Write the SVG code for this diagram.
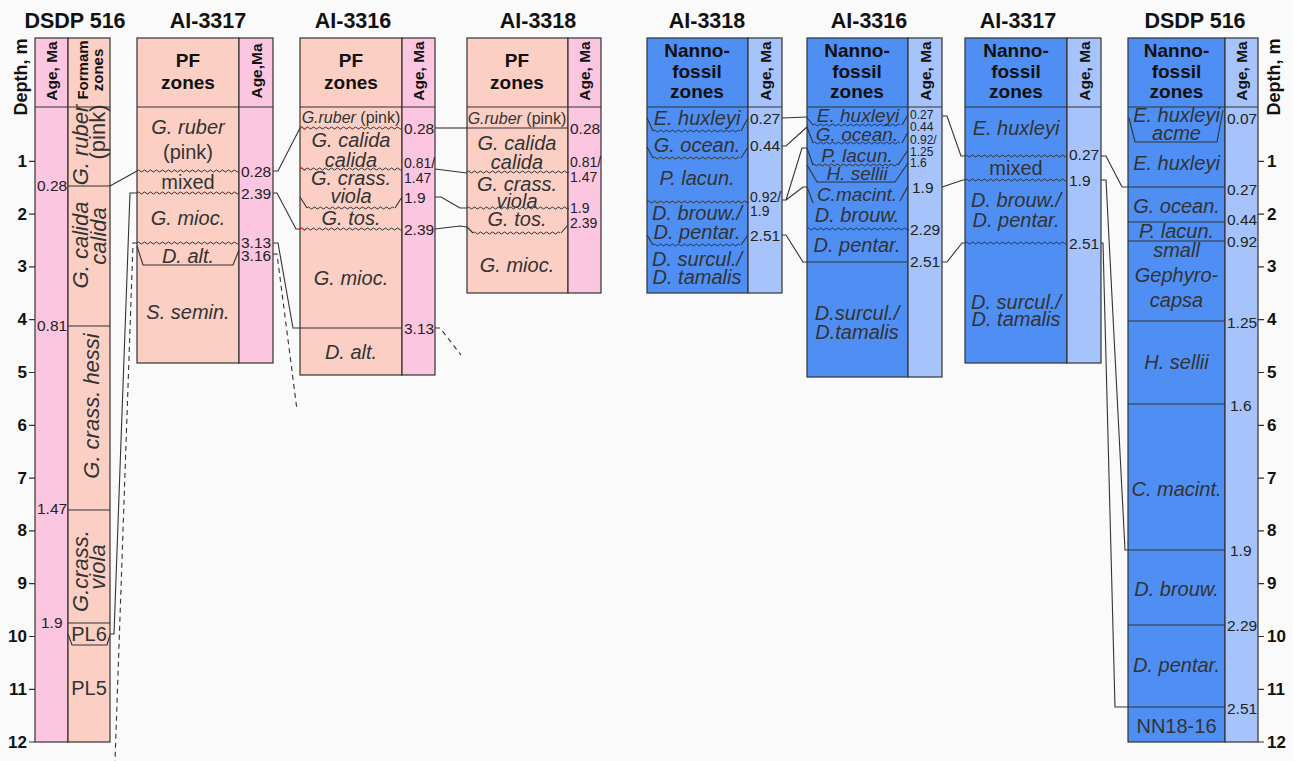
<svg xmlns="http://www.w3.org/2000/svg" width="1293" height="761" viewBox="0 0 1293 761">
<style>
text{font-family:"Liberation Sans",Arial,sans-serif}
.t{font-size:21.5px;font-weight:bold;fill:#111;text-anchor:middle}
.h{font-size:19px;font-weight:bold;fill:#111;text-anchor:middle}
.hs{font-size:15.5px;font-weight:bold;fill:#111;text-anchor:middle;dominant-baseline:central}
.z{font-size:20px;font-style:italic;fill:#333;text-anchor:middle;dominant-baseline:central}
.zf{font-size:22px;font-style:italic;fill:#333;text-anchor:middle;dominant-baseline:central}
.zr{font-size:20px;fill:#333;text-anchor:middle;dominant-baseline:central}
.zs{font-size:16px;fill:#333;text-anchor:middle;dominant-baseline:central}
.zd{font-size:19px;font-style:italic;fill:#333;text-anchor:middle;dominant-baseline:central}
.a{font-size:15.5px;fill:#222;dominant-baseline:central}
.am{font-size:14px;fill:#222;dominant-baseline:central}
.as{font-size:12px;fill:#222;dominant-baseline:central}
.d{font-size:17px;font-weight:bold;fill:#111;dominant-baseline:central}
.dl{font-size:18px;font-weight:bold;fill:#111;text-anchor:middle;dominant-baseline:central}
.pf{fill:#fccfc4;stroke:#333;stroke-width:1.2}
.pk{fill:#fdc6e0;stroke:#333;stroke-width:1.2}
.nb{fill:#4f8ff3;stroke:#333;stroke-width:1.2}
.lb{fill:#a6c4fb;stroke:#333;stroke-width:1.2}
.b{stroke:#333;stroke-width:1.1;fill:none}
.wv{stroke:#333;stroke-width:1;fill:none}
.c{stroke:#333;stroke-width:1.1;fill:none}
.dsh{stroke-dasharray:5,4}
.tk{stroke:#333;stroke-width:1.2;fill:none}
</style>
<defs>
<path id="w" class="wv" d="M0,0q1.5,-2 3,0t3,0t3,0t3,0t3,0t3,0t3,0t3,0t3,0t3,0t3,0t3,0t3,0t3,0t3,0t3,0t3,0t3,0t3,0t3,0t3,0t3,0t3,0t3,0t3,0t3,0t3,0t3,0t3,0t3,0t3,0t3,0t3,0t3,0"/>
<path id="ws" class="wv" d="M0,0q1.5,-2 3,0t3,0t3,0t3,0t3,0t3,0t3,0t3,0t3,0t3,0t3,0t3,0t3,0t3,0t3,0t3,0t3,0t3,0t3,0t3,0t3,0t3,0t3,0t3,0t3,0t3,0t3,0t3,0t3,0"/>
</defs>
<rect x="0" y="0" width="1293" height="761" fill="#fafafa"/>

<!-- Left DSDP 516 -->
<g id="dsdp516-pf">
<text class="t" x="75" y="28">DSDP 516</text>
<rect class="pk" x="35" y="38" width="33" height="704"/>
<rect class="pf" x="68" y="38" width="42" height="704"/>
<path class="b" d="M35,107H110 M68,186H110 M68,326H110 M68,510H110 M68,623H110 M68,634L72,645H107L110,635"/>
<text class="hs" transform="translate(51.5,71) rotate(-90)">Age, Ma</text>
<text class="hs" style="font-size:15px" transform="translate(82,70) rotate(-90)">Formam</text>
<text class="hs" style="font-size:15px" transform="translate(97,70) rotate(-90)">zones</text>
<text class="zf" transform="translate(80,145) rotate(-90)">G. ruber</text>
<text class="zr" style="font-size:22px" transform="translate(97,132) rotate(-90)">(pink)</text>
<text class="zf" transform="translate(80,245) rotate(-90)">G. calida</text>
<text class="zf" transform="translate(98,236) rotate(-90)">calida</text>
<text class="zf" transform="translate(91,406) rotate(-90)">G. crass. hessi</text>
<text class="zf" transform="translate(80,571) rotate(-90)">G.crass.</text>
<text class="zf" transform="translate(97,567) rotate(-90)">viola</text>
<text class="zr" x="89" y="634">PL6</text>
<text class="zr" x="89" y="688">PL5</text>
<text class="a" x="37" y="185">0.28</text>
<text class="a" x="37" y="325">0.81</text>
<text class="a" x="37" y="508">1.47</text>
<text class="a" x="41" y="622">1.9</text>
</g>

<g id="depth-left">
<text class="dl" transform="translate(21,77) rotate(-90)">Depth, m</text>
<path class="tk" d="M29,161.3h6 M29,214.1h6 M29,266.9h6 M29,319.7h6 M29,372.5h6 M29,425.3h6 M29,478.1h6 M29,530.9h6 M29,583.7h6 M29,636.5h6 M29,689.3h6 M29,742h6"/>
<g class="d" text-anchor="end">
<text x="27" y="161.3">1</text><text x="27" y="214.1">2</text><text x="27" y="266.9">3</text><text x="27" y="319.7">4</text><text x="27" y="372.5">5</text><text x="27" y="425.3">6</text><text x="27" y="478.1">7</text><text x="27" y="530.9">8</text><text x="27" y="583.7">9</text><text x="27" y="636.5">10</text><text x="27" y="689.3">11</text><text x="27" y="742">12</text>
</g>
</g>

<!-- AI-3317 PF -->
<g id="ai3317-pf">
<text class="t" x="208" y="28">AI-3317</text>
<rect class="pf" x="137" y="38" width="102" height="325"/>
<rect class="pk" x="239" y="38" width="34" height="325"/>
<path class="b" d="M137,107H273 M137,246L143,265H233L239,250"/>
<use href="#w" x="137" y="171"/>
<use href="#w" x="137" y="193"/>
<use href="#w" x="137" y="243"/>
<text class="h" x="188" y="67">PF</text>
<text class="h" x="188" y="89">zones</text>
<text class="hs" transform="translate(256,71) rotate(-90)">Age,Ma</text>
<text class="z" x="188" y="127">G. ruber</text>
<text class="zr" x="188" y="152">(pink)</text>
<text class="zr" x="188" y="182">mixed</text>
<text class="z" x="188" y="218">G. mioc.</text>
<text class="z" x="188" y="256">D. alt.</text>
<text class="z" x="188" y="312">S. semin.</text>
<text class="a" x="241" y="171">0.28</text>
<text class="a" x="241" y="193">2.39</text>
<text class="a" x="241" y="242">3.13</text>
<text class="a" x="241" y="255">3.16</text>
</g>

<!-- AI-3316 PF -->
<g id="ai3316-pf">
<text class="t" x="353" y="28">AI-3316</text>
<rect class="pf" x="300" y="38" width="102" height="337"/>
<rect class="pk" x="402" y="38" width="33" height="337"/>
<path class="b" d="M300,107H435 M300,197L307,208 M395,208L402,197 M300,328H402"/>
<use href="#w" x="300" y="128"/>
<use href="#w" x="300" y="169"/>
<use href="#w" x="300" y="229"/>
<use href="#ws" x="307" y="208"/>
<path d="M300,128q1.5,-2 3,0t3,0 M300,169q1.5,-2 3,0t3,0 M300,229q1.5,-2 3,0t3,0" stroke="#e02020" stroke-width="1.1" fill="none"/>
<text class="h" x="351" y="67">PF</text>
<text class="h" x="351" y="89">zones</text>
<text class="hs" transform="translate(418.5,71) rotate(-90)">Age, Ma</text>
<text class="zs" x="351" y="117"><tspan font-style="italic">G.ruber</tspan> (pink)</text>
<text class="z" x="351" y="140">G. calida</text>
<text class="z" x="351" y="160">calida</text>
<text class="z" x="351" y="178">G. crass.</text>
<text class="z" x="351" y="196">viola</text>
<text class="z" x="351" y="218">G. tos.</text>
<text class="z" x="351" y="278">G. mioc.</text>
<text class="z" x="351" y="352">D. alt.</text>
<text class="a" x="404" y="128">0.28</text>
<text class="am" x="404" y="163">0.81/</text>
<text class="am" x="404" y="178">1.47</text>
<text class="a" x="404" y="197">1.9</text>
<text class="a" x="404" y="229">2.39</text>
<text class="a" x="404" y="328">3.13</text>
</g>

<!-- AI-3318 PF -->
<g id="ai3318-pf">
<text class="t" x="538" y="28">AI-3318</text>
<rect class="pf" x="467" y="38" width="101" height="255"/>
<rect class="pk" x="568" y="38" width="33" height="255"/>
<path class="b" d="M467,107H601 M467,128H568 M467,227L473,233 M561,233L568,225"/>
<use href="#w" x="467" y="172"/>
<use href="#w" x="467" y="208"/>
<use href="#ws" x="473" y="233"/>
<text class="h" x="517" y="67">PF</text>
<text class="h" x="517" y="89">zones</text>
<text class="hs" transform="translate(584.5,71) rotate(-90)">Age, Ma</text>
<text class="zs" x="517" y="118"><tspan font-style="italic">G.ruber</tspan> (pink)</text>
<text class="z" x="517" y="143">G. calida</text>
<text class="z" x="517" y="162">calida</text>
<text class="z" x="517" y="184">G. crass.</text>
<text class="z" x="517" y="201">viola</text>
<text class="z" x="517" y="219">G. tos.</text>
<text class="z" x="517" y="265">G. mioc.</text>
<text class="a" x="570" y="128">0.28</text>
<text class="am" x="570" y="162">0.81/</text>
<text class="am" x="570" y="177">1.47</text>
<text class="am" x="570" y="208">1.9</text>
<text class="am" x="570" y="223">2.39</text>
</g>

<!-- AI-3318 Nanno -->
<g id="ai3318-nanno">
<text class="t" x="707" y="28">AI-3318</text>
<rect class="nb" x="647" y="38" width="101" height="255"/>
<rect class="lb" x="748" y="38" width="34" height="255"/>
<path class="b" d="M647,107H782 M647,118L653,131 M741,131L748,118 M647,147L653,158 M741,158L748,147 M647,235L653,245 M741,245L748,235"/>
<use href="#ws" x="653" y="131"/>
<use href="#ws" x="653" y="158"/>
<use href="#w" x="647" y="202"/>
<use href="#ws" x="653" y="245"/>
<text class="h" x="697" y="57">Nanno-</text>
<text class="h" x="697" y="78">fossil</text>
<text class="h" x="697" y="98">zones</text>
<text class="hs" transform="translate(765,71) rotate(-90)">Age, Ma</text>
<text class="z" x="697" y="118">E. huxleyi</text>
<text class="z" x="697" y="145">G. ocean.</text>
<text class="z" x="697" y="178">P. lacun.</text>
<text class="z" x="697" y="213">D. brouw./</text>
<text class="z" x="697" y="232">D. pentar.</text>
<text class="z" x="697" y="259">D. surcul./</text>
<text class="z" x="697" y="277">D. tamalis</text>
<text class="a" x="750" y="118">0.27</text>
<text class="a" x="750" y="145">0.44</text>
<text class="am" x="750" y="197">0.92/</text>
<text class="am" x="750" y="211">1.9</text>
<text class="a" x="750" y="235">2.51</text>
</g>

<!-- AI-3316 Nanno -->
<g id="ai3316-nanno">
<text class="t" x="869" y="28">AI-3316</text>
<rect class="nb" x="807" y="38" width="101" height="339"/>
<rect class="lb" x="908" y="38" width="34" height="339"/>
<path class="b" d="M807,107H942 M807,118L813,125 M902,125L908,115 M807,127L813,143 M902,143L908,132 M807,148L813,165 M898,165L908,150 M807,165L817,182H895L908,163 M807,187L813,203 M900,201L908,186 M807,262H908"/>
<use href="#ws" x="813" y="125"/>
<use href="#ws" x="813" y="143"/>
<use href="#ws" x="812" y="165"/>
<use href="#w" x="807" y="229"/>
<text class="h" x="857" y="57">Nanno-</text>
<text class="h" x="857" y="78">fossil</text>
<text class="h" x="857" y="98">zones</text>
<text class="hs" transform="translate(925,71) rotate(-90)">Age, Ma</text>
<text class="zd" x="858" y="115">E. huxleyi</text>
<text class="zd" x="857" y="134">G. ocean.</text>
<text class="zd" x="857" y="155">P. lacun.</text>
<text class="zd" x="857" y="173">H. sellii</text>
<text class="zd" x="857" y="194">C.macint.</text>
<text class="z" x="857" y="215">D. brouw.</text>
<text class="z" x="857" y="245">D. pentar.</text>
<text class="z" x="857" y="313">D.surcul./</text>
<text class="z" x="857" y="332">D.tamalis</text>
<text class="as" x="910" y="115">0.27</text>
<text class="as" x="910" y="127">0.44</text>
<text class="as" x="910" y="140">0.92/</text>
<text class="as" x="910" y="152">1.25</text>
<text class="as" x="910" y="163">1.6</text>
<text class="a" x="912" y="187">1.9</text>
<text class="a" x="910" y="229">2.29</text>
<text class="a" x="910" y="261">2.51</text>
</g>

<!-- AI-3317 Nanno -->
<g id="ai3317-nanno">
<text class="t" x="1018" y="28">AI-3317</text>
<rect class="nb" x="965" y="38" width="102" height="325"/>
<rect class="lb" x="1067" y="38" width="34" height="325"/>
<path class="b" d="M965,107H1101"/>
<use href="#w" x="965" y="156"/>
<use href="#w" x="965" y="180"/>
<use href="#w" x="965" y="243"/>
<text class="h" x="1016" y="57">Nanno-</text>
<text class="h" x="1016" y="78">fossil</text>
<text class="h" x="1016" y="98">zones</text>
<text class="hs" transform="translate(1084,71) rotate(-90)">Age, Ma</text>
<text class="z" x="1016" y="128">E. huxleyi</text>
<text class="zr" x="1016" y="168">mixed</text>
<text class="z" x="1016" y="200">D. brouw./</text>
<text class="z" x="1016" y="220">D. pentar.</text>
<text class="z" x="1016" y="302">D. surcul./</text>
<text class="z" x="1016" y="319">D. tamalis</text>
<text class="a" x="1069" y="154">0.27</text>
<text class="a" x="1069" y="180">1.9</text>
<text class="a" x="1069" y="243">2.51</text>
</g>

<!-- DSDP 516 Nanno -->
<g id="dsdp516-nanno">
<text class="t" x="1195" y="28">DSDP 516</text>
<rect class="nb" x="1128" y="38" width="97" height="704"/>
<rect class="lb" x="1225" y="38" width="33" height="704"/>
<path class="b" d="M1128,107H1258 M1129,118L1135,142H1217L1223,110 M1128,187H1225 M1128,222H1225 M1128,241H1225 M1128,321H1225 M1128,404H1225 M1128,550H1225 M1128,625H1225 M1128,707H1225"/>
<text class="h" x="1176.5" y="57">Nanno-</text>
<text class="h" x="1176.5" y="78">fossil</text>
<text class="h" x="1176.5" y="98">zones</text>
<text class="hs" transform="translate(1241.5,71) rotate(-90)">Age, Ma</text>
<text class="z" x="1176.5" y="115">E. huxleyi</text>
<text class="z" x="1176.5" y="133">acme</text>
<text class="z" x="1176.5" y="163">E. huxleyi</text>
<text class="z" x="1176.5" y="206">G. ocean.</text>
<text class="z" x="1176.5" y="231">P. lacun.</text>
<text class="z" x="1176.5" y="250">small</text>
<text class="z" x="1176.5" y="275">Gephyro-</text>
<text class="z" x="1176.5" y="300">capsa</text>
<text class="z" x="1176.5" y="362">H. sellii</text>
<text class="z" x="1176.5" y="489">C. macint.</text>
<text class="z" x="1176.5" y="589">D. brouw.</text>
<text class="z" x="1176.5" y="665">D. pentar.</text>
<text class="zr" x="1176.5" y="726">NN18-16</text>
<text class="a" x="1227" y="118">0.07</text>
<text class="a" x="1227" y="189">0.27</text>
<text class="a" x="1227" y="219">0.44</text>
<text class="a" x="1227" y="241">0.92</text>
<text class="a" x="1227" y="322">1.25</text>
<text class="a" x="1230" y="405">1.6</text>
<text class="a" x="1230" y="550">1.9</text>
<text class="a" x="1227" y="625">2.29</text>
<text class="a" x="1227" y="708">2.51</text>
</g>

<g id="depth-right">
<text class="dl" transform="translate(1274,77) rotate(-90)">Depth, m</text>
<path class="tk" d="M1258,161.3h6 M1258,214.1h6 M1258,266.9h6 M1258,319.7h6 M1258,372.5h6 M1258,425.3h6 M1258,478.1h6 M1258,530.9h6 M1258,583.7h6 M1258,636.5h6 M1258,689.3h6 M1258,742h6"/>
<g class="d">
<text x="1267" y="161.3">1</text><text x="1267" y="214.1">2</text><text x="1267" y="266.9">3</text><text x="1267" y="319.7">4</text><text x="1267" y="372.5">5</text><text x="1267" y="425.3">6</text><text x="1267" y="478.1">7</text><text x="1267" y="530.9">8</text><text x="1267" y="583.7">9</text><text x="1267" y="636.5">10</text><text x="1267" y="689.3">11</text><text x="1267" y="742">12</text>
</g>
</g>

<!-- Connectors -->
<g id="connectors">
<path class="c" d="M110,186L137,171"/>
<path class="c" d="M137,193H130L114,634H110"/>
<path class="c dsh" d="M137,243H133L115,761"/>
<path class="c" d="M273,171H278L300,128"/>
<path class="c" d="M273,193H277L296,229H300"/>
<path class="c" d="M273,243H278L293,328H300"/>
<path class="c dsh" d="M273,254H277L297,410"/>
<path class="c" d="M435,128H467"/>
<path class="c" d="M435,169L467,173"/>
<path class="c" d="M435,197H441L460,208H467"/>
<path class="c" d="M435,229L460,226L467,227"/>
<path class="c dsh" d="M435,328H440L461,355"/>
<path class="c" d="M782,118L807,117"/>
<path class="c" d="M782,146H786L807,127"/>
<path class="c" d="M782,200H786L802,148H807"/>
<path class="c" d="M786,200L803,187H807"/>
<path class="c" d="M782,235H786L803,262H807"/>
<path class="c" d="M942,116H947L961,156H965"/>
<path class="c" d="M942,187L963,180H965"/>
<path class="c" d="M942,262H947L962,243H965"/>
<path class="c" d="M1101,156H1106L1122,187H1128"/>
<path class="c" d="M1101,180H1106L1125,550H1128"/>
<path class="c" d="M1101,243H1103L1115,707H1128"/>
</g>
</svg>
